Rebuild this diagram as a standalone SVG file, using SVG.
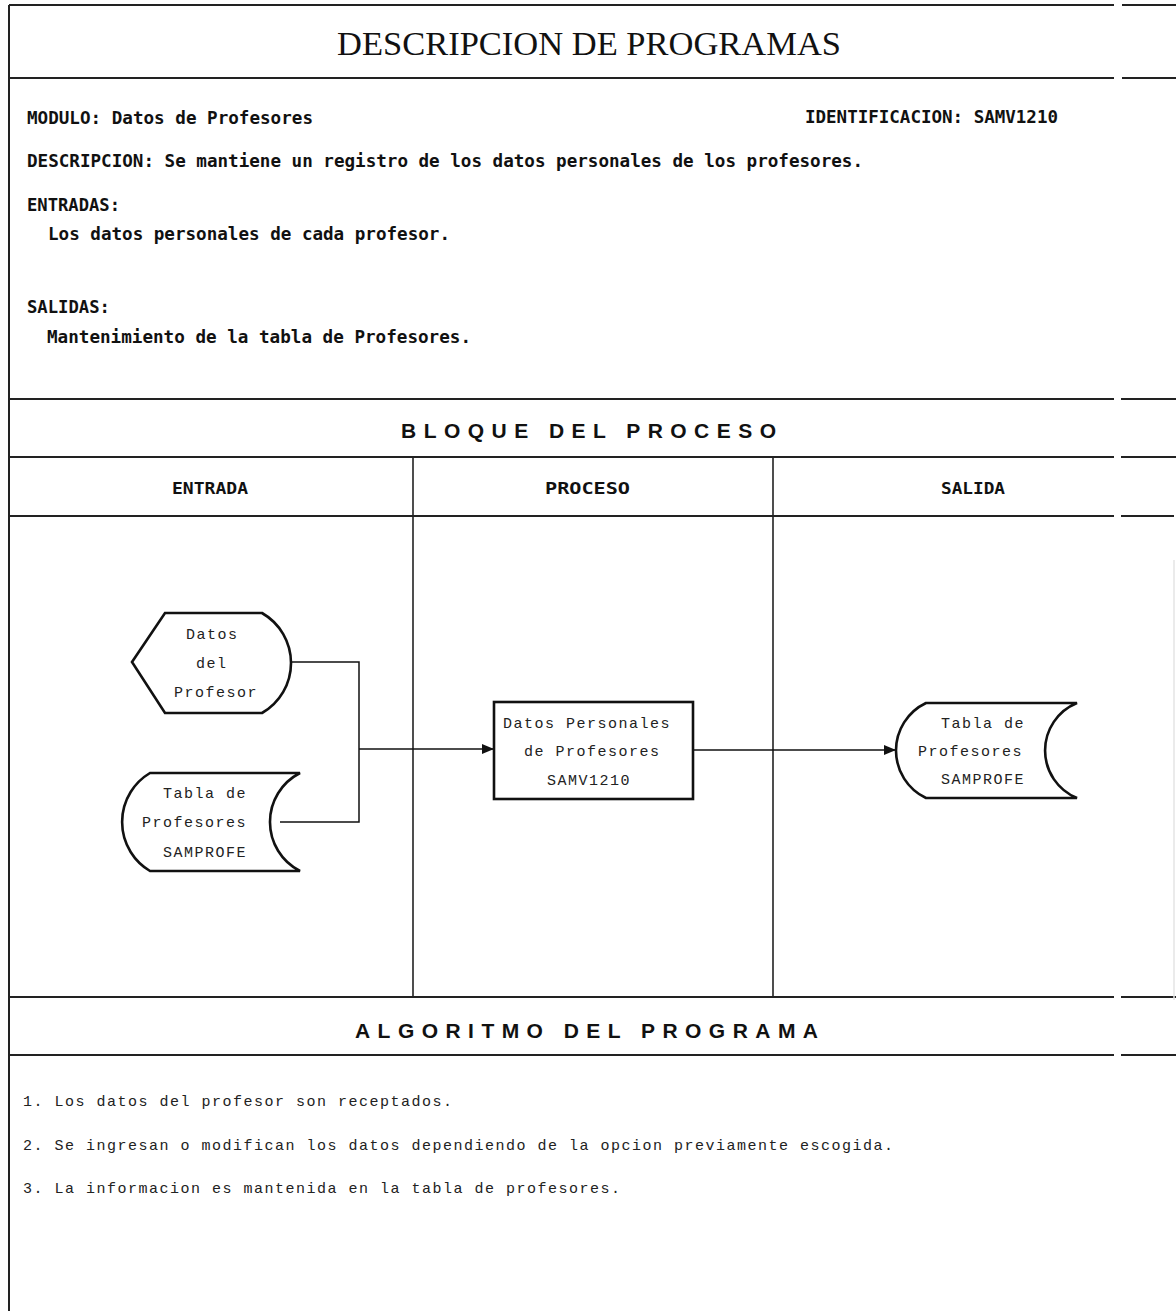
<svg xmlns="http://www.w3.org/2000/svg" width="1176" height="1311" viewBox="0 0 1176 1311">
<style>
.frame{stroke:#222;stroke-width:2;fill:none}
.div{stroke:#222;stroke-width:1.6;fill:none}
.shape{stroke:#111;stroke-width:2.6;fill:#fff}
.conn{stroke:#111;stroke-width:1.5;fill:none}
.title{font-family:"Liberation Serif",serif;font-size:34px;fill:#111}
.body{font-family:"DejaVu Sans Mono","Liberation Mono",monospace;font-size:18px;font-weight:bold;fill:#111}
.sec{font-family:"Liberation Sans",sans-serif;font-size:21px;font-weight:bold;fill:#111}
.hdr{font-family:"DejaVu Sans Mono","Liberation Mono",monospace;font-size:16px;font-weight:bold;fill:#111}
.lbl{font-family:"Liberation Mono",monospace;font-size:15px;fill:#222;letter-spacing:1.5px}
.item{font-family:"Liberation Mono",monospace;font-size:15px;fill:#222;letter-spacing:1.5px}
</style>
<defs>
<marker id="arr" markerWidth="12" markerHeight="10" refX="12" refY="5" orient="auto" markerUnits="userSpaceOnUse">
<path d="M0,0 L12,5 L0,10 Z" fill="#111"/>
</marker>
</defs>
<rect width="1176" height="1311" fill="#fff"/>
<g id="frame">
<line class="frame" x1="9" y1="5" x2="9" y2="1311"/>
<line class="frame" x1="9" y1="5" x2="1114" y2="5"/><line class="frame" x1="1122" y1="5" x2="1176" y2="5"/>
<line class="frame" x1="9" y1="78" x2="1114" y2="78"/><line class="frame" x1="1122" y1="78" x2="1176" y2="78"/>
<line class="frame" x1="9" y1="399" x2="1114" y2="399"/><line class="frame" x1="1121" y1="399" x2="1176" y2="399"/>
<line class="frame" x1="9" y1="457" x2="1114" y2="457"/><line class="frame" x1="1121" y1="457" x2="1176" y2="457"/>
<line class="frame" x1="9" y1="516" x2="1114" y2="516"/><line class="frame" x1="1121" y1="516" x2="1174" y2="516"/>
<line class="frame" x1="9" y1="997" x2="1114" y2="997"/><line class="frame" x1="1121" y1="997" x2="1176" y2="997"/>
<line class="frame" x1="9" y1="1055" x2="1114" y2="1055"/><line class="frame" x1="1121" y1="1055" x2="1176" y2="1055"/>
<line class="div" x1="413" y1="457" x2="413" y2="997"/>
<line class="div" x1="773" y1="457" x2="773" y2="997"/>
<line x1="1174" y1="560" x2="1174" y2="1000" stroke="#e4e4e4" stroke-width="1.5"/>
</g>
<g id="header">
<text class="title" x="337" y="55" textLength="504" lengthAdjust="spacingAndGlyphs">DESCRIPCION DE PROGRAMAS</text>
<text class="body" x="27" y="124" textLength="286" lengthAdjust="spacingAndGlyphs">MODULO: Datos de Profesores</text>
<text class="body" x="805" y="123" textLength="253" lengthAdjust="spacingAndGlyphs">IDENTIFICACION: SAMV1210</text>
<text class="body" x="27" y="167" textLength="836" lengthAdjust="spacingAndGlyphs">DESCRIPCION: Se mantiene un registro de los datos personales de los profesores.</text>
<text class="body" x="27" y="211" textLength="93" lengthAdjust="spacingAndGlyphs">ENTRADAS:</text>
<text class="body" x="48" y="240" textLength="402" lengthAdjust="spacingAndGlyphs">Los datos personales de cada profesor.</text>
<text class="body" x="27" y="313" textLength="83" lengthAdjust="spacingAndGlyphs">SALIDAS:</text>
<text class="body" x="47" y="343" textLength="424" lengthAdjust="spacingAndGlyphs">Mantenimiento de la tabla de Profesores.</text>
</g>
<g id="bloque">
<text class="sec" x="401" y="438" textLength="375" lengthAdjust="spacing">BLOQUE DEL PROCESO</text>
<text class="hdr" x="172" y="494" textLength="76" lengthAdjust="spacingAndGlyphs">ENTRADA</text>
<text class="hdr" x="545" y="494" textLength="85" lengthAdjust="spacingAndGlyphs">PROCESO</text>
<text class="hdr" x="941" y="494" textLength="64" lengthAdjust="spacingAndGlyphs">SALIDA</text>
</g>
<g id="connectors">
<polyline class="conn" points="291,662 359,662 359,822 280,822"/>
<line class="conn" x1="359" y1="749" x2="494" y2="749" marker-end="url(#arr)"/>
<line class="conn" x1="693" y1="750" x2="896" y2="750" marker-end="url(#arr)"/>
</g>
<g id="node-datos-profesor">
<path class="shape" d="M132,662 L165,613 L262,613 A57.6,57.6 0 0 1 262,713 L165,713 Z"/>
<text class="lbl" x="186" y="639">Datos</text>
<text class="lbl" x="196" y="668">del</text>
<text class="lbl" x="174" y="697">Profesor</text>
</g>
<g id="node-tabla-entrada">
<path class="shape" d="M150,773 L300,773 A55,55 0 0 0 300,871 L150,871 A57,57 0 0 1 150,773 Z"/>
<text class="lbl" x="163" y="798">Tabla de</text>
<text class="lbl" x="142" y="827">Profesores</text>
<text class="lbl" x="163" y="857">SAMPROFE</text>
</g>
<g id="node-proceso">
<rect class="shape" x="494" y="702" width="199" height="97" stroke-width="3.2"/>
<text class="lbl" x="503" y="728">Datos Personales</text>
<text class="lbl" x="524" y="756">de Profesores</text>
<text class="lbl" x="547" y="785">SAMV1210</text>
</g>
<g id="node-tabla-salida">
<path class="shape" d="M926,703 L1077,703 A51.3,51.3 0 0 0 1077,798 L926,798 A52.6,52.6 0 0 1 926,703 Z"/>
<text class="lbl" x="941" y="728">Tabla de</text>
<text class="lbl" x="918" y="756">Profesores</text>
<text class="lbl" x="941" y="784">SAMPROFE</text>
</g>
<g id="algoritmo">
<text class="sec" x="355" y="1038" textLength="463" lengthAdjust="spacing">ALGORITMO DEL PROGRAMA</text>
<text class="item" x="23" y="1106">1. Los datos del profesor son receptados.</text>
<text class="item" x="23" y="1150">2. Se ingresan o modifican los datos dependiendo de la opcion previamente escogida.</text>
<text class="item" x="23" y="1193">3. La informacion es mantenida en la tabla de profesores.</text>
</g>
</svg>
